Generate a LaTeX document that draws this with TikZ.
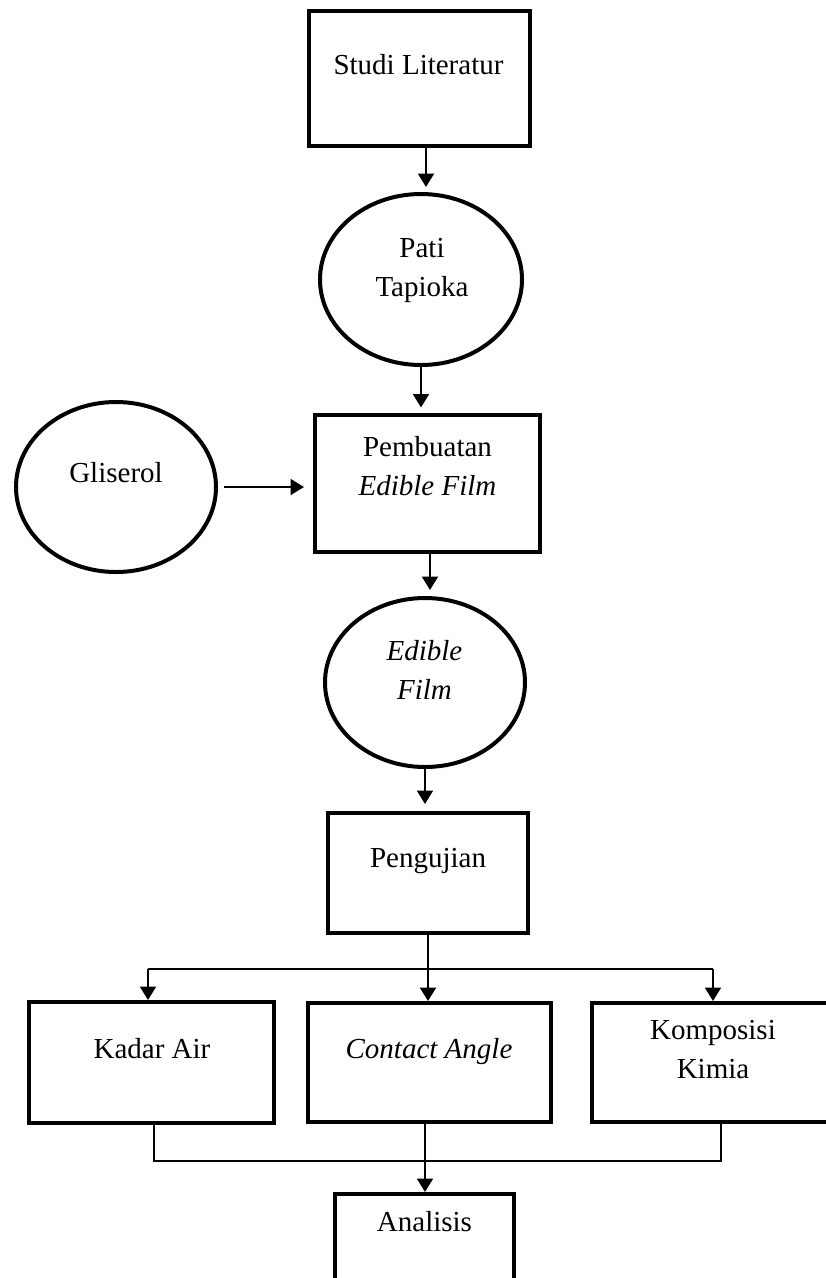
\documentclass[tikz,border=0pt]{standalone}
\usepackage{fontspec}
\setmainfont{Liberation Serif}
\usetikzlibrary{arrows.meta,shapes.geometric}
\tikzset{
	kotak/.style={draw,rectangle,line width=0.08cm,inner sep=0pt},
	lonjong/.style={draw,ellipse,line width=0.08cm,inner sep=0pt},
	teks/.style={font=\fontsize{16.5}{22.2}\selectfont,align=center,inner sep=0pt},
	panah/.style={line width=0.04cm,-{Triangle[width=0.32cm,length=0.27cm]}},
	garis/.style={line width=0.03cm}
}

\begin{document}
\begin{tikzpicture}
		\useasboundingbox (0,0) rectangle (16.5,-25.56);
		\node[kotak,minimum width=4.42cm,minimum height=2.70cm] (studi) at (8.39,-1.57) {};
		\node[lonjong,minimum width=4.04cm,minimum height=3.42cm] (pati) at (8.42,-5.59) {};
		\node[lonjong,minimum width=4.0cm,minimum height=3.4cm] (gliserol) at (2.32,-9.74) {};
		\node[kotak,minimum width=4.5cm,minimum height=2.74cm] (buat) at (8.55,-9.66) {};
		\node[lonjong,minimum width=4.0cm,minimum height=3.38cm] (film) at (8.5,-13.65) {};
		\node[kotak,minimum width=4.0cm,minimum height=2.4cm] (uji) at (8.56,-17.46) {};
		\node[kotak,minimum width=4.9cm,minimum height=2.42cm] (kadar) at (3.03,-21.25) {};
		\node[kotak,minimum width=4.86cm,minimum height=2.38cm] (sudut) at (8.59,-21.25) {};
		\node[kotak,minimum width=4.86cm,minimum height=2.38cm] (kimia) at (14.26,-21.25) {};
		\node[kotak,minimum width=3.58cm,minimum height=2.72cm] (analisis) at (8.49,-25.24) {};
		\node[teks,anchor=base] (studi-t) at (8.37,-1.48) {Studi Literatur};
		\node[teks] (pati-t) at (8.44,-5.40) {Pati\\Tapioka};
		\node[teks,anchor=base] (gliserol-t) at (2.32,-9.64) {Gliserol};
		\node[teks] (buat-t) at (8.55,-9.33) {Pembuatan\\\textit{Edible Film}};
		\node[teks] (film-t) at (8.49,-13.40) {\textit{Edible}\\\textit{Film}};
		\node[teks,anchor=base] (uji-t) at (8.56,-17.35) {Pengujian};
		\node[teks,anchor=base] (kadar-t) at (3.04,-21.16) {Kadar Air};
		\node[teks,anchor=base] (sudut-t) at (8.58,-21.16) {\textit{Contact Angle}};
		\node[teks] (kimia-t) at (14.26,-20.99) {Komposisi\\Kimia};
		\node[teks,anchor=base] (analisis-t) at (8.49,-24.62) {Analisis};
		\coordinate (p1) at ([xshift=0.13cm]studi.south);
		\draw[panah,shorten >=0.1cm] (p1) -- (p1 |- pati.north);
		\draw[panah,shorten >=0.1cm] (pati.south) -- (pati.south |- buat.north);
		\draw[panah,shorten <=0.12cm,shorten >=0.18cm] (gliserol.east) -- (gliserol.east -| buat.west);
		\coordinate (p2) at ([xshift=0.05cm]buat.south);
		\draw[panah,shorten >=0.12cm] (p2) -- (p2 |- film.north);
		\draw[panah,shorten >=0.14cm] (film.south) -- (film.south |- uji.north);
		\draw[panah] (uji.south) -- (uji.south |- sudut.north);
		\coordinate (cabang-kiri) at (2.96,-19.38);
		\coordinate (cabang-kanan) at (14.26,-19.38);
		\draw[garis] (cabang-kiri) -- (cabang-kanan);
		\draw[panah] (cabang-kiri) -- (cabang-kiri |- kadar.north);
		\draw[panah] (cabang-kanan) -- (cabang-kanan |- kimia.north);
		\coordinate (gabung-kiri) at (3.08,-23.22);
		\coordinate (gabung-kanan) at (14.42,-23.22);
		\draw[garis] (gabung-kiri |- kadar.south) -- (gabung-kiri) -- (gabung-kanan) -- (gabung-kanan |- kimia.south);
		\coordinate (p3) at ([xshift=-0.09cm]sudut.south);
		\draw[panah] (p3) -- (p3 |- analisis.north);
	\end{tikzpicture}
\end{document}
